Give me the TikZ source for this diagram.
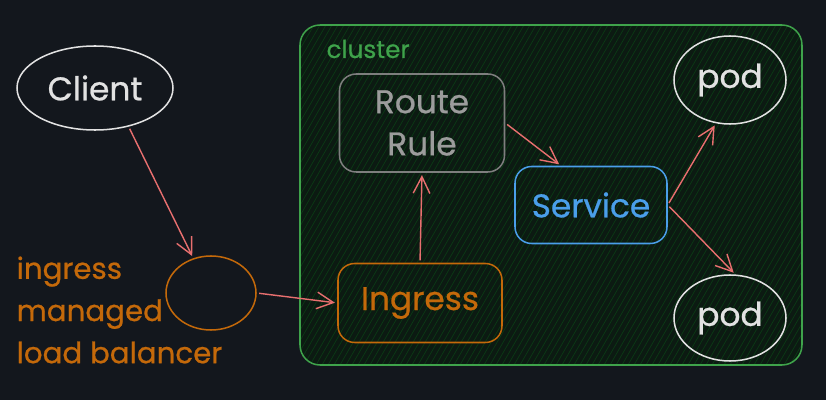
\documentclass[tikz,border=0pt]{standalone}
\usepackage{fontspec}
\setmainfont{Poppins}[FakeBold=0.7]
\usetikzlibrary{arrows.meta, shapes.geometric}
\definecolor{cbg}{HTML}{13171D}
\definecolor{cgreen}{HTML}{3FA34B}
\definecolor{chatch}{HTML}{0B3A15}
\definecolor{cfill}{HTML}{0C1A12}
\definecolor{cwhite}{HTML}{E2E2E2}
\definecolor{cgrey}{HTML}{7E7E7E}
\definecolor{cgreytext}{HTML}{9C9C9C}
\definecolor{cblue}{HTML}{4A9EEA}
\definecolor{corange}{HTML}{C4690A}
\definecolor{cred}{HTML}{E86F6F}
\tikzset{
  every picture/.style={line width=1.3pt},
  label font/.style={font=\fontsize{28}{36}\selectfont},
  box/.style={draw=#1, rectangle, rounded corners=0.5cm, inner sep=0pt, align=center, label font},
  blob/.style={draw=#1, ellipse, inner sep=0pt, align=center, label font},
  arrow/.style={-{Straight Barb[length=5mm, width=5mm]}, draw=cred, line width=1.2pt, shorten >=2pt, shorten <=2pt},
}

\begin{document}
\begin{tikzpicture}[x=0.03cm, y=-0.03cm]
  \useasboundingbox (0,0) rectangle (826,400);
  \fill[cbg] (0,0) rectangle (826,400);
  % cluster with hachure fill
  \fill[cfill, rounded corners=0.6cm] (300,25) rectangle (802,365);
  \begin{scope}
    \clip[rounded corners=0.6cm] (300,25) rectangle (802,365);
    \foreach \i in {100,106,...,810}
      \draw[chatch, line width=0.6pt] (\i,365) -- ++(196,-340);
  \end{scope}
  \draw[cgreen, rounded corners=0.6cm] (300,25) rectangle (802,365);
  \node[text=cgreen, anchor=west, font=\fontsize{21}{24}\selectfont] (cl) at (322,49) {cluster};

  \node[blob=cwhite, text=cwhite, minimum width=4.68cm, minimum height=2.52cm] (client) at (95,88) {Client};
  \node[blob=corange, minimum width=2.7cm, minimum height=2.22cm] (lb) at (211,293) {};
  \node[text=corange, align=left, anchor=west, font=\fontsize{25}{36}\selectfont] (lbl) at (12,310) {ingress\\managed\\load balancer};

  \node[box=cgrey, text=cgreytext, minimum width=4.95cm, minimum height=2.94cm] (rr) at (422,123) {Route\\Rule};
  \node[box=cblue, text=cblue, minimum width=4.56cm, minimum height=2.31cm] (svc) at (591,205) {Service};
  \node[box=corange, text=corange, minimum width=4.92cm, minimum height=2.37cm] (ing) at (420,303) {Ingress};
  \node[blob=cwhite, text=cwhite, minimum width=3.36cm, minimum height=2.64cm] (p1) at (730,80) {pod};
  \node[blob=cwhite, text=cwhite, minimum width=3.36cm, minimum height=2.58cm] (p2) at (730,318) {pod};

  \draw[arrow] (client.-49) -- (lb.117);
  \draw[arrow] (lb.east) -- (ing.west);
  \draw[arrow] (ing.north) -- (rr.south);
  \draw[arrow] (rr.east) -- ([xshift=-0.9cm]svc.north);
  \draw[arrow] (svc.east) -- (p1.-108);
  \draw[arrow] (svc.east) -- (p2.83);
\end{tikzpicture}
\end{document}
